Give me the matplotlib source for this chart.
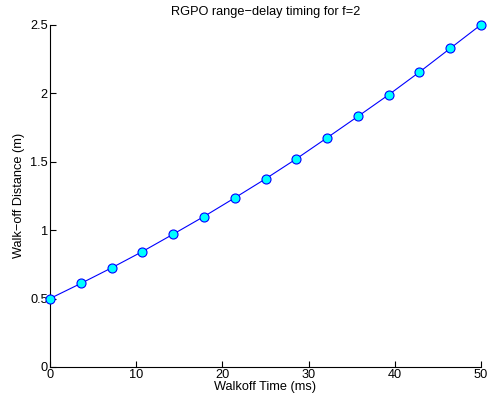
import matplotlib
matplotlib.use("Agg")
import matplotlib.pyplot as plt
import numpy as np

plt.rcParams['font.family'] = ['Liberation Sans', 'DejaVu Sans']

walkoff_time = [0, 3.571, 7.143, 10.714, 14.286, 17.857, 21.429, 25.0,
                28.571, 32.143, 35.714, 39.286, 42.857, 46.429, 50.0]
walkoff_dist = [0.500, 0.610, 0.724, 0.843, 0.970, 1.099, 1.235, 1.374,
                1.520, 1.674, 1.830, 1.988, 2.154, 2.327, 2.500]

fs = 9.2
fig = plt.figure(figsize=(4.87, 4.08), dpi=100)
ax = fig.add_axes([0.1027, 0.1005, 0.885, 0.839])
ax.plot(walkoff_time, walkoff_dist, '-o', color='#0000ff', lw=0.8,
        markerfacecolor='#00ffff', markeredgecolor='#0000ff',
        markersize=6.5, markeredgewidth=0.8, clip_on=False, zorder=3)
ax.set_xlim(0, 50)
ax.set_ylim(0, 2.5)
ax.set_xticks([0, 10, 20, 30, 40, 50])
ax.set_yticks([0, 0.5, 1, 1.5, 2, 2.5])
ax.set_yticklabels(['0', '0.5', '1', '1.5', '2', '2.5'])
for s in ['top', 'right']:
    ax.spines[s].set_visible(False)
for s in ['left', 'bottom']:
    ax.spines[s].set_linewidth(0.8)
ax.tick_params(direction='in', length=4, width=0.8, labelsize=fs, pad=1.5)
ax.set_xlabel('Walkoff Time (ms)', fontsize=fs, labelpad=0)
ax.set_ylabel('Walk\u2212off Distance (m)', fontsize=fs, labelpad=4)
ax.set_title('RGPO range\u2212delay timing for f=2', fontsize=fs, pad=7)
fig.savefig('out.png', dpi=100)
